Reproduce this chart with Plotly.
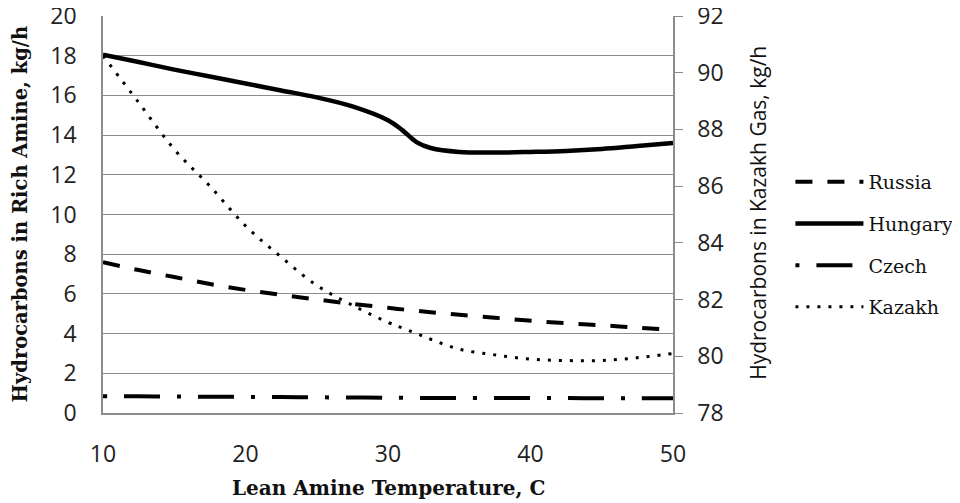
import plotly.graph_objects as go

temp = [10, 12.5, 15, 17.5, 20, 22.5, 25, 27.5, 30, 31, 32, 33, 35, 37.5, 40, 42.5, 45, 47.5, 50]
russia = [7.6, 7.2, 6.85, 6.5, 6.2, 5.95, 5.72, 5.5, 5.3, 5.22, 5.15, 5.08, 4.95, 4.8, 4.65, 4.52, 4.42, 4.3, 4.2]
hungary = [18.05, 17.68, 17.3, 16.95, 16.6, 16.25, 15.9, 15.45, 14.75, 14.25, 13.65, 13.35, 13.15, 13.12, 13.15, 13.2, 13.3, 13.45, 13.6]
czech = [0.85, 0.84, 0.83, 0.82, 0.81, 0.8, 0.79, 0.78, 0.77, 0.77, 0.76, 0.76, 0.76, 0.75, 0.75, 0.75, 0.74, 0.74, 0.74]
kazakh = [90.6, 88.95, 87.3, 86.0, 84.6, 83.5, 82.5, 81.8, 81.2, 81.0, 80.8, 80.6, 80.25, 80.05, 79.9, 79.85, 79.85, 79.95, 80.1]

left_ticks = [0, 2, 4, 6, 8, 10, 12, 14, 16, 18, 20]
right_ticks = [78, 80, 82, 84, 86, 88, 90, 92]
x_ticks = [10, 20, 30, 40, 50]

fig = go.Figure()
fig.add_trace(go.Scatter(x=temp, y=russia, name="Russia", mode="lines", legendgroup="r",
                         line=dict(color="black", width=4, dash="17px,15px", shape="spline")))
fig.add_trace(go.Scatter(x=temp, y=hungary, name="Hungary", mode="lines", legendgroup="h",
                         line=dict(color="black", width=4.5, shape="spline")))
fig.add_trace(go.Scatter(x=temp, y=czech, name="Czech", mode="lines", legendgroup="c",
                         line=dict(color="black", width=4, dash="4px,17px,36px,17px", shape="spline")))
fig.add_trace(go.Scatter(x=temp, y=kazakh, name="Kazakh", mode="lines", yaxis="y2", legendgroup="k",
                         line=dict(color="black", width=3, dash="3px,8px", shape="spline")))

sans = "Open Sans, sans-serif"
serif = "DejaVu Serif, serif"
tickfont = dict(family=sans, size=23, color="#222")
fig.update_layout(
    width=952, height=495,
    margin=dict(l=95, r=287, t=8, b=90, autoexpand=False),
    paper_bgcolor="white", plot_bgcolor="white",
    xaxis=dict(range=[10, 50], tickvals=x_ticks, showgrid=False, zeroline=False,
               showline=True, linecolor="#8c8c8c", linewidth=1.5, ticks="",
               tickfont=tickfont, ticklabelstandoff=20, automargin=False,
               ticklabeloverflow="allow"),
    yaxis=dict(range=[0, 20], tickvals=left_ticks, showgrid=True, gridcolor="#8c8c8c",
               gridwidth=1.3, zeroline=False, showline=True, linecolor="#8c8c8c",
               linewidth=1.5, ticks="", tickfont=tickfont, ticklabelstandoff=20, automargin=False,
               ticklabeloverflow="allow"),
    yaxis2=dict(range=[78, 92], tickvals=right_ticks, overlaying="y", side="right",
                showgrid=False, zeroline=False, showline=True, linecolor="#8c8c8c",
                linewidth=1.5, ticks="outside", ticklen=8, tickcolor="#8c8c8c", tickwidth=1.3,
                tickfont=tickfont, ticklabelstandoff=10, tickprefix="\u2002",
                automargin=False, ticklabeloverflow="allow"),
    showlegend=True,
    legend=dict(x=1.206, y=0.63, xanchor="left", yanchor="top",
                font=dict(family=serif, size=19, color="#111"),
                itemwidth=68, tracegroupgap=14, bgcolor="rgba(0,0,0,0)"),
    annotations=[
        dict(text="<b>Hydrocarbons in Rich Amine, kg/h</b>", xref="paper", yref="paper",
             x=-0.1456, y=0.5, textangle=-90, showarrow=False, xanchor="center", yanchor="middle",
             font=dict(family=serif, size=19.5, color="#111")),
        dict(text="Hydrocarbons in Kazakh Gas, kg/h", xref="paper", yref="paper",
             x=1.149, y=0.504, textangle=-90, showarrow=False, xanchor="center", yanchor="middle",
             font=dict(family=sans, size=21, color="#111")),
        dict(text="<b>Lean Amine Temperature, C</b>", xref="paper", yref="paper",
             x=0.5, y=-0.189, showarrow=False, xanchor="center", yanchor="middle",
             font=dict(family=serif, size=20, color="#111")),
    ],
)
fig.write_html("out.html")
